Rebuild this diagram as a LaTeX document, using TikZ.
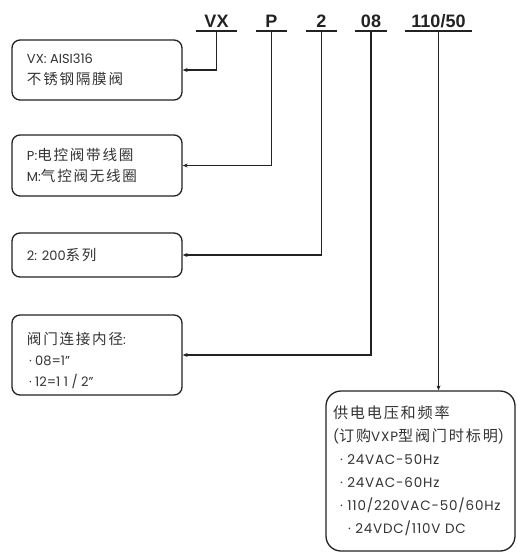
\documentclass[tikz,border=0pt]{standalone}
\usepackage{fontspec}
\setmainfont{Poppins}
\newfontfamily\wide{Poppins}[LetterSpace=6]
\newfontfamily\cjk{Noto Sans CJK SC}[Scale=1.12, LetterSpace=12]
\newfontfamily\hdr{Liberation Sans}
\usetikzlibrary{arrows.meta, positioning}
\definecolor{lineDark}{HTML}{222222}
\definecolor{textDark}{HTML}{333333}
\newcommand{\linea}{\hspace*{0pt}}

\begin{document}
\begin{tikzpicture}[x=1pt, y=-1pt,
    caja/.style={draw=lineDark, rounded corners=8pt, line width=1.3pt,
                 inner xsep=3pt, text=textDark, font=\fontsize{13}{21}\selectfont,
                 execute at begin node={\begin{minipage}{#1}\raggedright\leftskip=12pt},
                 execute at end node={\end{minipage}}},
    caja/.default=164pt,
    cod/.style={font=\hdr\bfseries\fontsize{18}{18}\selectfont, anchor=base,
                inner sep=0pt, text depth=4pt, text=lineDark},
    fl/.style={-{Stealth[length=5pt, width=4pt]}, line width=1.2pt, color=lineDark},
    ul/.style={line width=1.5pt, color=lineDark}]
    \useasboundingbox (0,0) rectangle (517,552);
    % codigo del modelo
    \node[cod, minimum width=41pt] (vx)  at (216.5,27) {VX};
    \node[cod, minimum width=31pt] (pm)  at (271.5,27) {P};
    \node[cod, minimum width=31pt] (ser) at (321.5,27) {2};
    \node[cod, minimum width=32pt] (dn)  at (371,27)   {08};
    \node[cod, minimum width=67pt] (vol) at (438.5,27) {110/50};
    \foreach \n in {vx, pm, ser, dn, vol}
      \draw[ul] (\n.south west) -- (\n.south east);
    % cajas
    \node[caja, minimum height=60pt] (b1) at (97,70)    {\linea VX: AISI316\\\linea{\cjk 不锈钢隔膜阀}};
    \node[caja, minimum height=61pt] (b2) at (97,165.5) {\linea P:{\cjk 电控阀带线圈}\\\linea M:{\cjk 气控阀无线圈}};
    \node[caja, minimum height=44pt] (b3) at (97,255)   {\linea 2: 200{\cjk 系列}};
    \node[caja, minimum height=80pt] (b4) at (97,355)   {\linea\rule{0pt}{24pt}{\cjk 阀门连接内径}:\\
      \hspace*{2pt}·\ 08=1"\\ \hspace*{2pt}·\ 12=1\ 1 / 2"};
    \node[caja=183pt, rounded corners=15pt, minimum height=160pt,
          font=\wide\fontsize{13.5}{23}\selectfont]
          (b5) at (420.5,471) {\leftskip=4pt\linea{\cjk 供电电压和频率}\\
      \linea({\cjk 订购}VXP{\cjk 型阀门时标明})\\ \hspace*{7pt}·\ 24VAC-50Hz\\ \hspace*{7pt}·\ 24VAC-60Hz\\
      \hspace*{7pt}·\ 110/220VAC-50/60Hz\\ \hspace*{7pt}·\ 24VDC/110V DC};
    \draw[fl] (vx.south) |- (b1.east);
    \draw[fl] (pm.south) |- (b2.east);
    \draw[fl] (ser.south) |- (b3.east);
    \draw[fl] (dn.south) |- (b4.east);
    \draw[fl] (vol.south) -- (vol.south |- b5.north);
  \end{tikzpicture}
\end{document}
